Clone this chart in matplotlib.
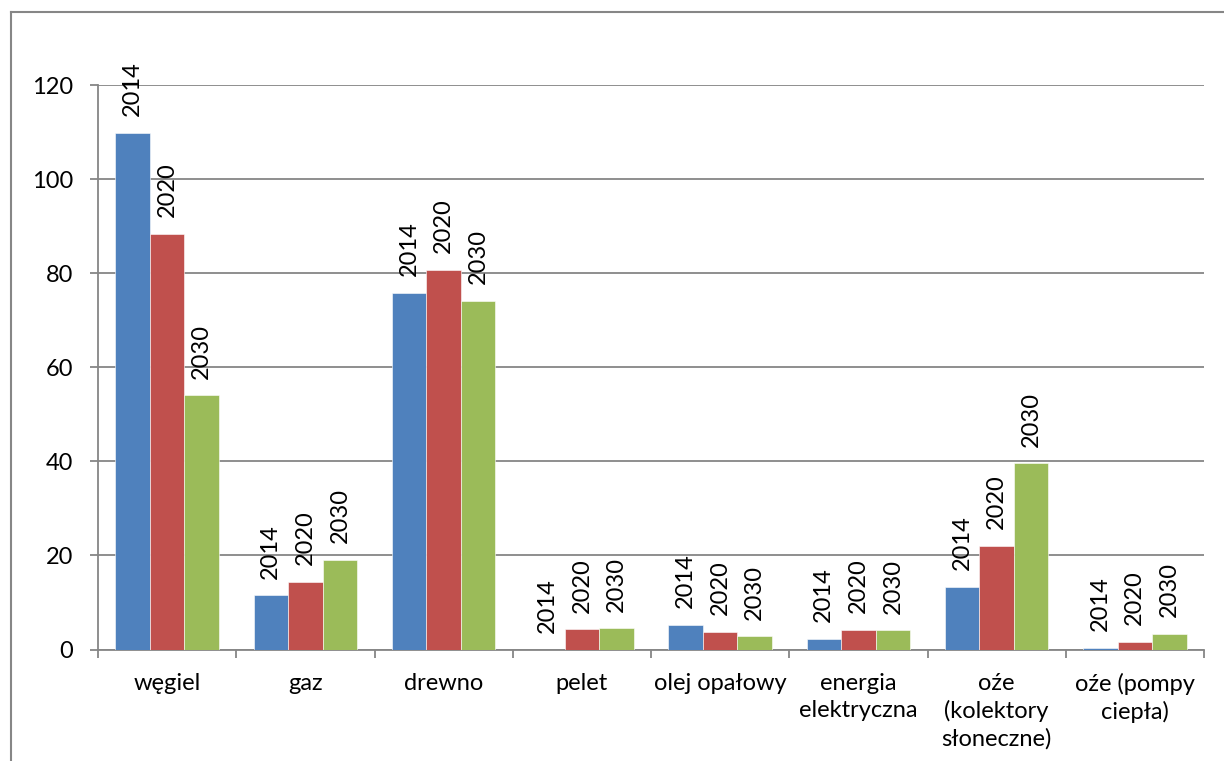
import matplotlib.pyplot as plt
from matplotlib.lines import Line2D
import numpy as np

plt.rcParams['font.family'] = ['Lato', 'DejaVu Sans']

# dane
kategorie = ['węgiel', 'gaz', 'drewno', 'pelet', 'olej opałowy',
             'energia\nelektryczna', 'oźe\n(kolektory\nsłoneczne)', 'oźe (pompy\nciepła)']
lata = ['2014', '2020', '2030']
w2014 = [109.9, 11.5, 75.8, 0.0, 5.2, 2.2, 13.3, 0.3]
w2020 = [88.4, 14.4, 80.7, 4.3, 3.8, 4.2, 22.0, 1.7]
w2030 = [54.0, 19.1, 74.1, 4.5, 2.8, 4.1, 39.6, 3.4]
kolory = ['#4F81BD', '#C0504D', '#9BBB59']

fig = plt.figure(figsize=(12.24, 7.61), dpi=100)
ax = fig.add_axes([98 / 1224, 1 - 649.5 / 761, (1204 - 98) / 1224, (649.5 - 85) / 761])

x = np.arange(len(kategorie))
szer = 0.25
for i, (rok, wart) in enumerate(zip(lata, [w2014, w2020, w2030])):
    pos = x + (i - 1) * szer
    ax.bar(pos, wart, szer, color=kolory[i], edgecolor='white', linewidth=0.4, zorder=3)
    # etykiety danych - nazwa serii pionowo nad słupkiem
    for px, v in zip(pos, wart):
        ax.annotate(rok, xy=(px, v), xytext=(0, 12), textcoords='offset points',
                    rotation=90, ha='center', va='bottom', fontsize=17, zorder=4)

ax.set_xlim(-0.5, len(kategorie) - 0.5)
ax.set_ylim(0, 120)
ax.set_yticks(range(0, 121, 20))
ax.yaxis.grid(True, color='#868686', linewidth=1.3, zorder=0)

ax.set_xticks(x)
ax.set_xticklabels(kategorie, fontsize=17, linespacing=1.32)
ax.set_xticks(np.arange(-0.5, len(kategorie), 1), minor=True)
ax.tick_params(axis='x', which='major', length=0, pad=17)
ax.tick_params(axis='x', which='minor', length=6, width=1.3, color='#868686')
ax.tick_params(axis='y', length=6, width=1.3, color='#868686', labelsize=17, pad=12)

for s in ['top', 'right']:
    ax.spines[s].set_visible(False)
for s in ['left', 'bottom']:
    ax.spines[s].set_color('#868686')
    ax.spines[s].set_linewidth(1.3)

# ramka wykresu (przycięta)
fig.add_artist(Line2D([10.5 / 1224, 10.5 / 1224], [0, 1 - 12 / 761], color='#868686', lw=1.5))
fig.add_artist(Line2D([10.5 / 1224, 1], [1 - 12 / 761, 1 - 12 / 761], color='#868686', lw=1.5))

fig.savefig('out.png', dpi=100)
